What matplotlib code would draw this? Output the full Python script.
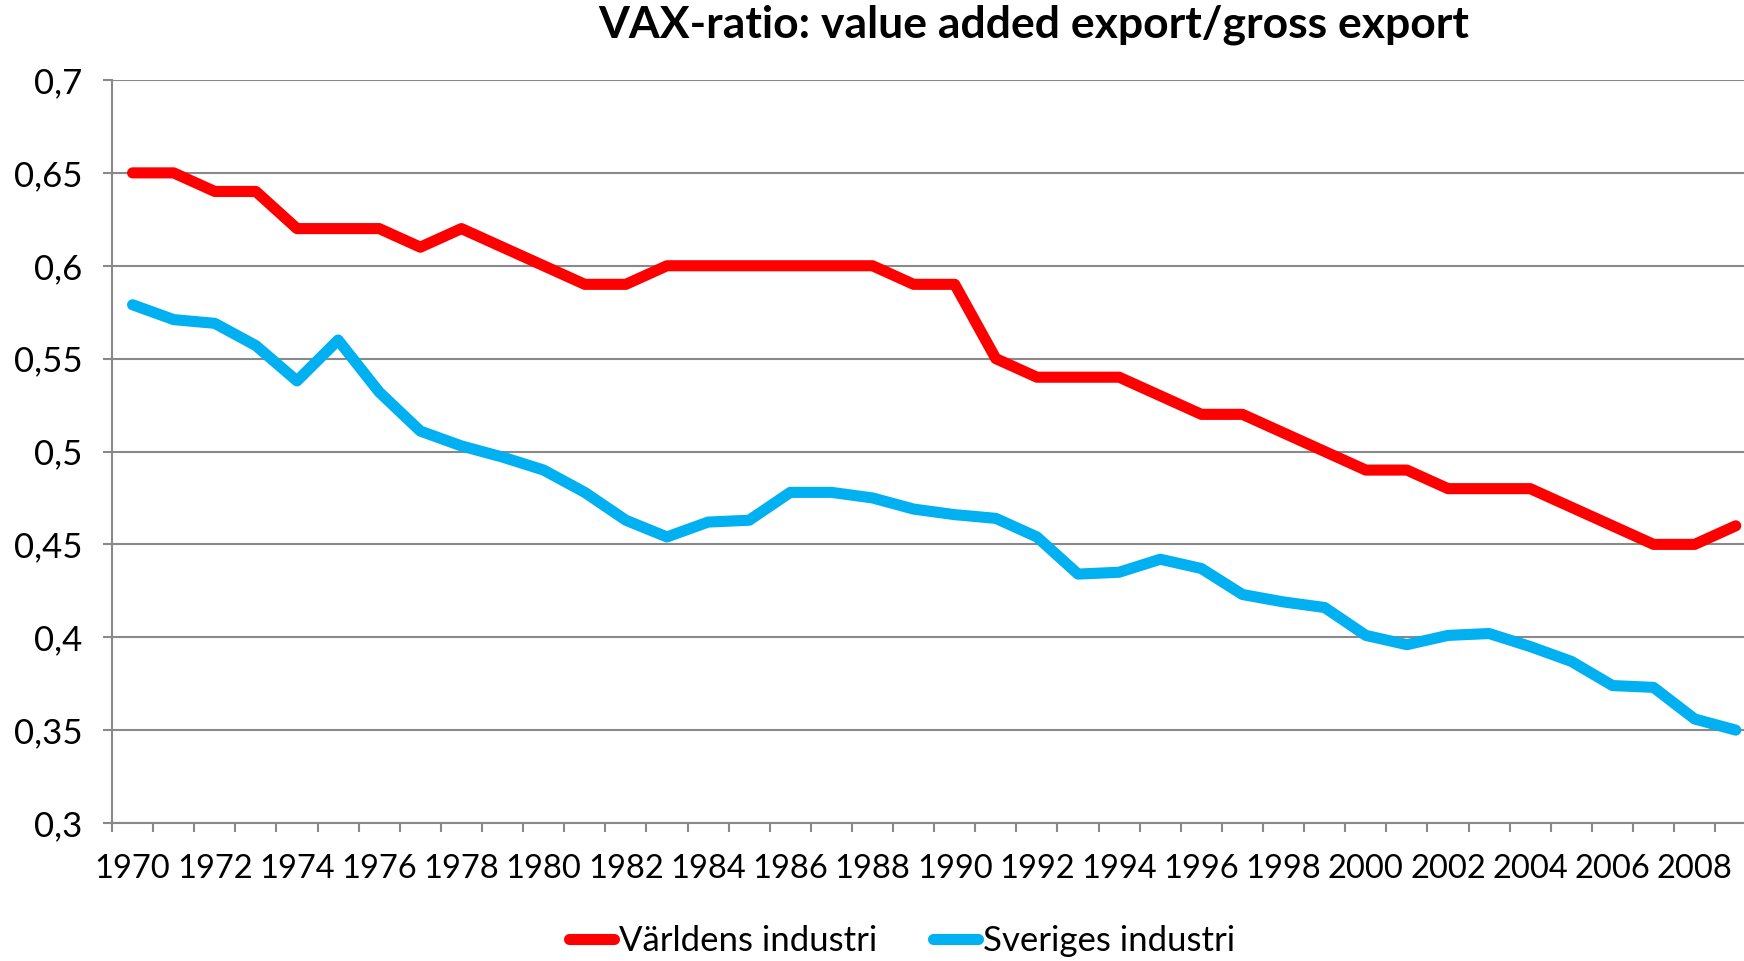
import matplotlib
matplotlib.use("Agg")
import matplotlib.pyplot as plt
from matplotlib.ticker import FixedLocator, FuncFormatter

years = list(range(1970, 2010))
varldens = [0.65, 0.65, 0.64, 0.64, 0.62, 0.62, 0.62, 0.61, 0.62, 0.61,
            0.60, 0.59, 0.59, 0.60, 0.60, 0.60, 0.60, 0.60, 0.60, 0.59,
            0.59, 0.55, 0.54, 0.54, 0.54, 0.53, 0.52, 0.52, 0.51, 0.50,
            0.49, 0.49, 0.48, 0.48, 0.48, 0.47, 0.46, 0.45, 0.45, 0.46]
sveriges = [0.579, 0.571, 0.569, 0.557, 0.538, 0.560, 0.532, 0.511, 0.503, 0.497,
            0.490, 0.478, 0.463, 0.454, 0.462, 0.463, 0.478, 0.478, 0.475, 0.469,
            0.466, 0.464, 0.454, 0.434, 0.435, 0.442, 0.437, 0.423, 0.419, 0.416,
            0.401, 0.396, 0.401, 0.402, 0.395, 0.387, 0.374, 0.373, 0.356, 0.350]
yticks = [0.3, 0.35, 0.4, 0.45, 0.5, 0.55, 0.6, 0.65, 0.7]
title = "VAX-ratio: value added export/gross export"
labels = ["Världens industri", "Sveriges industri"]

plt.rcParams['font.family'] = ['Lato', 'DejaVu Sans']

fig = plt.figure(figsize=(17.44, 9.61), dpi=100)
ax = fig.add_axes([112/1744, 1-823/961, 1-112/1744, (823-80)/961])

grid_c = '#898989'
ax.plot(years, varldens, color='#FF0000', lw=8, solid_capstyle='round',
        solid_joinstyle='round', label=labels[0], zorder=3)
ax.plot(years, sveriges, color='#00B0F0', lw=8, solid_capstyle='round',
        solid_joinstyle='round', label=labels[1], zorder=3)

ax.set_ylim(0.3, 0.7)
ax.set_xlim(1969.5, 2009.2)
ax.yaxis.set_major_locator(FixedLocator(yticks))
ax.yaxis.set_major_formatter(FuncFormatter(lambda v, p: ('%g' % round(v, 2)).replace('.', ',')))
ax.grid(axis='y', color=grid_c, lw=1.5, zorder=0)

ax.xaxis.set_major_locator(FixedLocator([y for y in years if y % 2 == 0]))
ax.xaxis.set_major_formatter(FuncFormatter(lambda v, p: '%d' % v))
ax.xaxis.set_minor_locator(FixedLocator([y - 0.5 for y in years] + [years[-1] + 0.5]))
ax.tick_params(axis='x', which='major', length=0, pad=22, labelsize=23.5)
ax.tick_params(axis='x', which='minor', length=6.5, width=1.5, color=grid_c, direction='out')
ax.tick_params(axis='y', length=6.5, width=1.5, color=grid_c, labelsize=25, pad=15)

for s in ['top', 'right']:
    ax.spines[s].set_visible(False)
ax.spines['left'].set_color(grid_c)
ax.spines['left'].set_linewidth(1.5)
ax.spines['bottom'].set_color(grid_c)
ax.spines['bottom'].set_linewidth(1.5)

fig.text(1034/1744, 1-25/961, title, ha='center', va='center', fontsize=32, fontweight='bold')

fig.legend(loc='center', bbox_to_anchor=(902/1744, 1-941/961), ncol=2, frameon=False,
           fontsize=25, handlelength=1.3, handletextpad=0.15, columnspacing=1.6)

fig.savefig('out.png', dpi=100)
